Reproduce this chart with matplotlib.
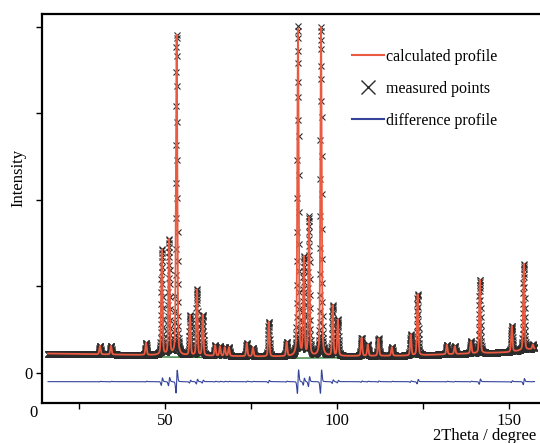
import numpy as np
import matplotlib
matplotlib.use("Agg")
import matplotlib.pyplot as plt
from matplotlib.lines import Line2D

plt.rcParams["font.family"] = "serif"
plt.rcParams["font.serif"] = ["Liberation Serif", "DejaVu Serif"]

# ---- reflections: position (2theta), height above background ----
peak_pos = [31.1, 34.3, 44.5, 49.1, 51.2, 53.4, 57.3, 59.3, 61.0, 64.6, 66.0,
            67.4, 68.6, 73.8, 75.6, 80.2, 85.4, 88.7, 90.4, 91.9, 95.4, 98.8,
            100.3, 107.2, 109.0, 112.1, 116.0, 121.5, 123.5, 132.0, 134.3,
            139.0, 141.6, 150.9, 154.4, 157.0]
peak_height = [0.10, 0.10, 0.14, 1.22, 1.33, 3.70, 0.46, 0.76, 0.47, 0.12, 0.11,
               0.10, 0.10, 0.15, 0.10, 0.40, 0.16, 3.80, 1.13, 1.60, 3.80, 0.58,
               0.42, 0.21, 0.13, 0.20, 0.10, 0.24, 0.71, 0.11, 0.09,
               0.14, 0.85, 0.30, 1.00, 0.05]

# background knots (2theta, intensity)
bkg_x = [16, 40, 80, 120, 150, 157.5]
bkg_y = [0.225, 0.21, 0.19, 0.20, 0.24, 0.28]

two_theta = np.arange(16.0, 157.5, 0.04)
fwhm = 0.45
diff_scale = 0.012
diff_offset = -0.1


def profile(x):
    bkg = np.interp(x, bkg_x, bkg_y)
    y = bkg.copy()
    s = fwhm / 2.3548
    g = fwhm / 2
    for p, h in zip(peak_pos, peak_height):
        gauss = np.exp(-0.5 * ((x - p) / s) ** 2)
        lor = 1 / (1 + ((x - p) / g) ** 2)
        y += h * (0.7 * gauss + 0.3 * lor)
    return bkg, y


bkg, calc = profile(two_theta)
measured = calc - diff_scale * np.gradient(calc, two_theta)
difference = measured - calc + diff_offset

fig = plt.figure(figsize=(5.4, 4.43), dpi=100)
ax = fig.add_axes([42 / 540, 40 / 443, 508 / 540, 389 / 443])

ax.plot(two_theta, bkg - 0.02, color="#2e7d32", lw=1.0, zorder=1)
ax.plot(two_theta, measured, ls="none", marker="x", ms=4, mew=0.8,
        color="#2b2b2b", zorder=2)
ax.plot(two_theta, calc, color="#ea5a40", lw=1.3, zorder=3)
ax.plot(two_theta, difference, color="#34449a", lw=0.8, zorder=3)

ax.set_xlim(14.24, 162)
ax.set_ylim(-0.347, 4.15)
ax.set_xticks([25, 50, 75, 100, 125, 150])
ax.set_xticklabels(["", "50", "", "100", "", "150"], fontsize=12)
ax.set_yticks([0, 1, 2, 3, 4])
ax.set_yticklabels(["0", "", "", "", ""], fontsize=12)
ax.tick_params(direction="out", length=4, width=1, pad=3)
ax.tick_params(axis="x", pad=3)
for sp in ax.spines.values():
    sp.set_linewidth(1.6)

fig.text(18 / 540, 1 - 178 / 443, "Intensity", fontsize=12, rotation=90,
         ha="center", va="center")
fig.text(33 / 540, 1 - 413 / 443, "0", fontsize=12, ha="center", va="center")
fig.text(536 / 540, 1 - 436 / 443, "2Theta / degree", fontsize=12,
         ha="right", va="center")

handles = [Line2D([], [], color="#ea5a40", lw=1.5),
           Line2D([], [], ls="none", marker="x", ms=10, mew=1.0, color="#2b2b2b"),
           Line2D([], [], color="#34449a", lw=1.5)]
ax.legend(handles, ["calculated profile", "measured points", "difference profile"],
          loc="upper left", bbox_to_anchor=(352 / 540, 1 - 49 / 443),
          bbox_transform=fig.transFigure, frameon=False, fontsize=11.5,
          handlelength=2.0, handletextpad=0.15, labelspacing=1.0,
          borderpad=0, borderaxespad=0)

fig.savefig("out.png", dpi=100)
